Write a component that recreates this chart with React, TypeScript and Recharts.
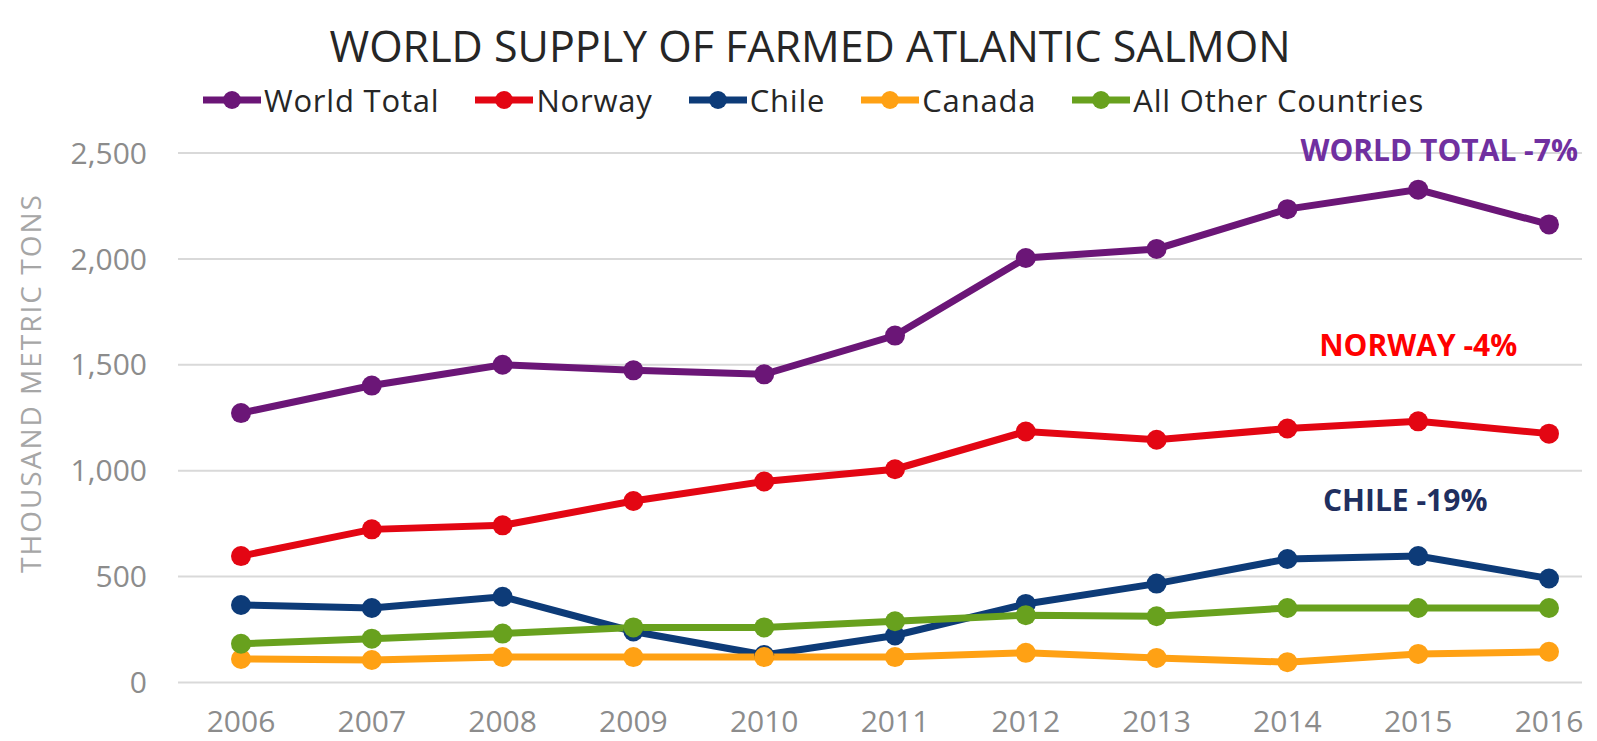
import React from "react"
import { LineChart, Line, XAxis, YAxis, CartesianGrid, ReferenceDot } from "recharts"

const years = ["2006", "2007", "2008", "2009", "2010", "2011", "2012", "2013", "2014", "2015", "2016"]
const worldTotal = [1272, 1402, 1500, 1474, 1455, 1638, 2004, 2047, 2235, 2327, 2163]
const norway = [597, 723, 742, 857, 949, 1007, 1185, 1146, 1199, 1233, 1175]
const chile = [366, 352, 405, 241, 130, 222, 371, 467, 583, 597, 491]
const canada = [111, 106, 120, 120, 120, 120, 140, 116, 96, 135, 145]
const otherCountries = [183, 207, 231, 260, 260, 289, 318, 313, 352, 352, 352]
const yTicks = [0, 500, 1000, 1500, 2000, 2500]

const series = [
  { key: "world", name: "World Total", color: "#6b1677", values: worldTotal },
  { key: "norway", name: "Norway", color: "#e30613", values: norway },
  { key: "chile", name: "Chile", color: "#0d3b78", values: chile },
  { key: "canada", name: "Canada", color: "#ffa114", values: canada },
  { key: "other", name: "All Other Countries", color: "#68a11e", values: otherCountries },
]

const data = years.map((year, i) => {
  const row: Record<string, string | number> = { year }
  series.forEach((s) => {
    row[s.key] = s.values[i]
  })
  return row
})

const FONT = "'Open Sans', 'DejaVu Sans', sans-serif"

// text callouts, placed at data coordinates
const callouts = [
  { x: "2015", y: 2512, text: "WORLD TOTAL -7%", color: "#7030a0", dx: 21 },
  { x: "2015", y: 1590, text: "NORWAY -4%", color: "#ff0000", dx: 0 },
  { x: "2015", y: 862, text: "CHILE -19%", color: "#1f2f5f", dx: -13 },
]

const LegendIcon = ({ color }: { color: string }) => (
  <svg width={58} height={22} style={{ display: "block" }}>
    <line x1={0} y1={11} x2={58} y2={11} stroke={color} strokeWidth={7} />
    <circle cx={29} cy={11} r={9} fill={color} />
  </svg>
)

export default function App() {
  return (
    <div
      style={{
        position: "absolute",
        left: 0,
        top: 0,
        width: 1597,
        height: 741,
        background: "#fff",
        fontFamily: FONT,
        overflow: "hidden",
      }}
    >
      <div
        style={{
          position: "absolute",
          left: 0,
          width: 1620,
          top: 18,
          textAlign: "center",
          fontSize: 43,
          lineHeight: "56px",
          color: "#262626",
        }}
      >
        WORLD SUPPLY OF FARMED ATLANTIC SALMON
      </div>

      <div
        style={{
          position: "absolute",
          left: 203,
          top: 81,
          height: 38,
          display: "flex",
          alignItems: "center",
          fontSize: 31,
          letterSpacing: 0.8,
          color: "#262626",
        }}
      >
        {series.map((s, i) => (
          <div key={s.key} style={{ display: "flex", alignItems: "center", marginRight: i < series.length - 1 ? 36 : 0 }}>
            <LegendIcon color={s.color} />
            <span style={{ marginLeft: 3 }}>{s.name}</span>
          </div>
        ))}
      </div>

      <div
        style={{
          position: "absolute",
          left: 30,
          top: 383,
          transform: "translate(-50%, -50%) rotate(-90deg)",
          whiteSpace: "nowrap",
          fontSize: 28,
          letterSpacing: 2,
          lineHeight: "30px",
          color: "#a6a6a6",
        }}
      >
        THOUSAND METRIC TONS
      </div>

      <div style={{ position: "absolute", left: 0, top: 0 }}>
        <LineChart width={1597} height={741} data={data} margin={{ top: 153, right: 15, bottom: 0, left: 0 }}>
          <CartesianGrid vertical={false} stroke="#d9d9d9" strokeWidth={2} />
          <XAxis
            dataKey="year"
            axisLine={false}
            tickLine={false}
            tickSize={0}
            tickMargin={28}
            height={58.5}
            padding={{ left: 63, right: 33 }}
            interval={0}
            tick={{ fontSize: 30, fill: "#8c8c8c", fontFamily: FONT }}
          />
          <YAxis
            width={178}
            domain={[0, 2500]}
            ticks={yTicks}
            axisLine={false}
            tickLine={false}
            tickSize={0}
            tickMargin={31}
            tickFormatter={(v: number) => v.toLocaleString("en-US")}
            tick={{ fontSize: 30, fill: "#8c8c8c", fontFamily: FONT }}
          />
          {series.map((s) => (
            <Line
              key={s.key}
              type="linear"
              dataKey={s.key}
              name={s.name}
              stroke={s.color}
              strokeWidth={7}
              dot={{ r: 10, fill: s.color, stroke: "none" }}
              activeDot={false}
              isAnimationActive={false}
            />
          ))}
          {callouts.map((c) => (
            <ReferenceDot
              key={c.text}
              x={c.x}
              y={c.y}
              r={0}
              fill="none"
              stroke="none"
              ifOverflow="visible"
              label={{
                value: c.text,
                position: "center",
                dx: c.dx,
                fill: c.color,
                fontSize: 30,
                fontWeight: 700,
                fontFamily: FONT,
              }}
            />
          ))}
        </LineChart>
      </div>
    </div>
  )
}
